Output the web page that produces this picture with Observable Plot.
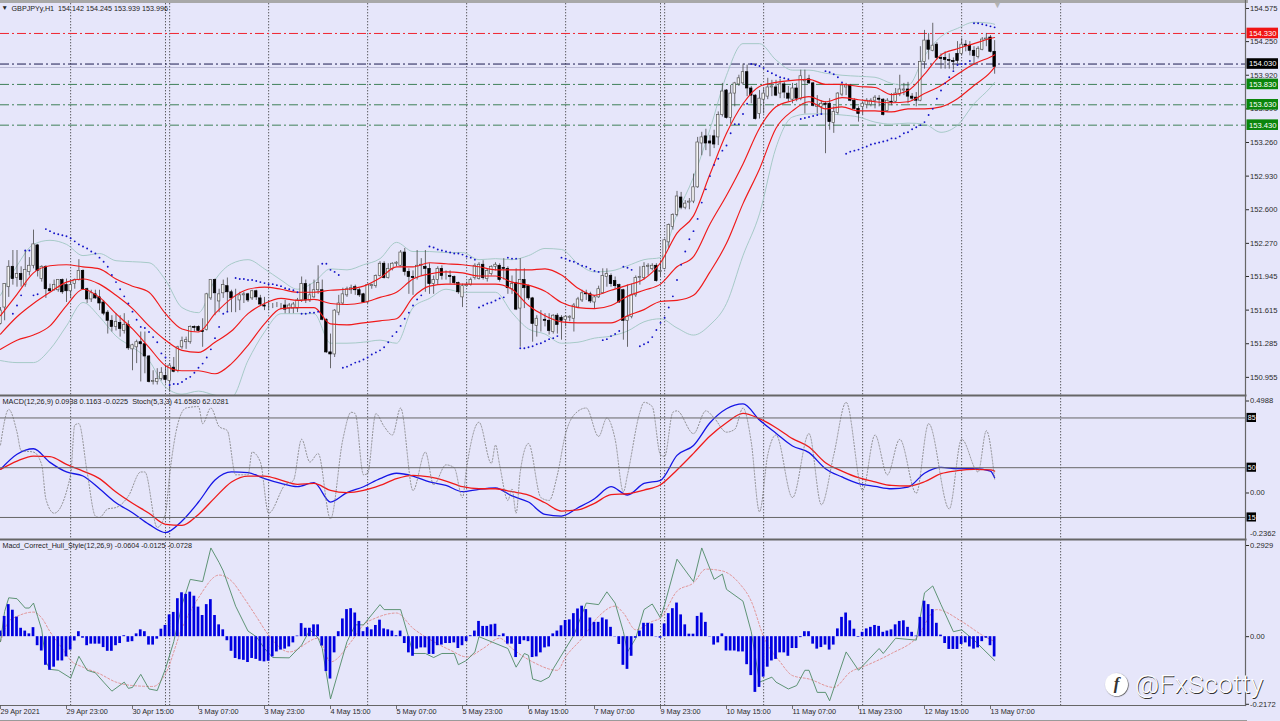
<!DOCTYPE html>
<html><head><meta charset="utf-8">
<script src="https://cdn.jsdelivr.net/npm/d3@7"></script>
<script src="https://cdn.jsdelivr.net/npm/@observablehq/plot@0.6"></script>
<style>
html,body{margin:0;padding:0;background:#e6e6fa;overflow:hidden}
#root{position:relative;width:1280px;height:721px;background:#e6e6fa;overflow:hidden}
#wm{position:absolute;left:1135px;top:668px;font:300 26.5px Roboto,sans-serif;color:#fff;text-shadow:0.8px 0.8px 0.6px #333;letter-spacing:.3px;white-space:pre}
#logo{position:absolute;left:1105px;top:673px;width:23px;height:23px;border-radius:50%;background:#fff;box-shadow:0.6px 0.6px 1px #444;color:#333;font:italic 700 17px "Liberation Serif",serif;text-align:center;line-height:22px}
</style></head><body><div id="root"></div>
<script>
// Candles, in pips above 150.00 (1 pip = 0.01 JPY)
const open = [148,164,184,204,193,197,186,199,205,225,192,204,182,181,181,191,186,180,187,191,200,182,172,177,174,169,159,151,145,149,141,147,123,125,130,128,116,91,91,94,97,92,105,102,125,130,130,145,145,141,142,173,191,170,178,185,179,172,171,176,177,173,180,173,166,165,166,166,165,166,163,163,163,171,187,171,174,181,181,152,120,118,159,168,176,181,184,181,177,169,185,185,195,207,193,202,207,205,218,199,194,193,205,204,202,187,191,202,195,195,194,188,174,185,186,193,192,206,192,197,204,205,203,202,182,188,163,191,185,173,146,151,152,151,140,156,154,152,154,153,164,171,178,177,169,174,178,194,195,190,186,181,151,155,176,193,193,204,202,205,199,202,228,243,255,272,262,267,268,282,325,332,327,332,331,353,377,350,374,383,384,395,379,372,354,368,371,380,380,374,383,374,368,379,369,386,388,384,361,361,364,364,345,355,373,380,382,367,359,361,363,363,367,369,368,357,366,366,373,377,378,371,370,367,405,426,416,422,409,409,407,406,413,413,422,421,416,410,417,427,429,415];
const high = [164,187,210,220,220,204,220,213,240,226,205,205,187,191,191,192,192,191,192,211,201,183,181,181,181,171,161,156,158,156,158,151,128,132,140,140,117,102,104,105,107,109,115,126,135,135,146,146,146,153,178,191,192,182,191,193,181,182,179,179,178,181,181,176,174,171,168,169,168,171,168,169,173,194,191,187,191,205,191,153,138,162,176,183,184,186,186,183,178,187,187,196,209,209,207,208,209,220,222,202,200,220,212,220,207,195,204,205,200,200,195,189,187,189,193,207,208,210,202,205,208,207,212,204,195,202,212,202,186,174,156,161,158,158,157,158,156,156,156,168,174,181,181,179,175,185,202,202,197,194,187,182,186,187,195,204,208,207,207,207,210,231,246,256,278,277,269,271,295,331,336,339,333,338,356,384,378,382,385,392,403,402,381,373,377,379,389,387,387,388,385,381,384,384,397,397,392,385,372,367,366,369,361,375,384,384,383,369,361,366,369,369,372,372,369,369,374,379,392,384,385,374,375,420,436,433,443,424,413,415,413,409,425,428,426,425,420,420,429,433,431,426];
const low = [147,151,174,186,184,184,184,195,202,194,189,173,179,180,179,177,169,173,182,190,181,168,169,172,161,156,138,140,141,135,138,122,102,109,91,99,90,88,88,92,89,81,100,100,123,123,128,140,140,125,141,171,156,159,173,159,159,159,161,168,169,171,171,165,161,161,163,164,162,158,158,158,159,169,168,169,173,177,151,119,104,115,156,166,174,177,176,174,168,168,182,183,194,192,192,200,204,204,195,177,176,191,195,179,177,177,186,191,191,187,186,177,164,184,185,191,191,191,189,195,200,189,191,177,177,161,125,163,171,130,135,140,145,137,138,138,132,145,150,140,163,169,171,168,163,173,177,184,184,182,168,132,125,153,174,186,191,195,200,189,194,201,222,240,253,260,260,260,266,281,313,318,312,320,323,351,349,344,361,381,382,371,364,348,349,354,368,371,371,369,369,366,364,366,367,354,383,361,354,353,315,338,335,353,371,372,366,358,346,353,359,361,359,361,352,356,362,365,371,372,364,367,361,366,398,407,415,407,398,398,398,397,403,411,415,411,403,408,416,420,414,393];
const close = [161,187,204,192,197,191,201,205,226,200,204,182,180,186,191,179,180,186,191,200,182,172,178,173,168,158,151,145,150,143,147,124,127,130,128,116,91,92,94,100,93,107,101,125,131,132,145,144,141,140,177,191,178,177,186,179,173,172,176,177,171,180,174,167,165,165,166,166,165,162,166,167,171,187,171,176,181,188,152,120,118,161,168,177,182,183,181,176,169,186,186,195,207,193,202,207,208,218,199,194,193,205,206,202,187,191,202,195,195,194,188,179,185,186,191,205,206,193,200,204,206,191,202,183,187,162,191,183,173,148,153,151,151,141,156,147,151,155,155,166,172,178,177,170,174,182,195,197,187,185,169,151,155,176,193,194,204,205,205,190,200,230,245,255,273,262,266,268,282,326,331,325,325,324,353,376,350,374,384,389,395,379,372,349,369,374,380,381,372,383,375,369,379,369,391,387,384,362,363,364,363,346,356,374,382,382,367,359,354,364,367,367,370,368,353,367,365,374,378,378,371,369,367,405,426,417,421,409,408,407,406,405,406,422,421,416,411,418,427,428,415,400];

// Indicator lines read at every 4th bar (bars 0,4,...,240 and 241)
const lineBars = [...d3.range(0,241,4),241];
const redUpper = [156,177,198,205,206,204,202,192,185,179,158,143,140,158,173,182,184,182,179,179,181,182,185,193,204,204,208,207,206,204,201,201,201,202,196,183,176,181,186,192,208,237,254,295,335,364,381,385,387,388,383,383,381,380,373,377,393,412,418,423,428,429];
const redMiddle = [138,155,168,179,189,192,187,176,163,146,132,122,120,130,141,158,168,173,171,172,168,167,169,174,179,192,197,199,198,195,195,189,186,180,169,164,163,166,175,181,187,204,214,246,274,305,340,361,367,371,366,370,368,366,365,366,374,382,393,403,410,412];
const redLower = [123,132,137,146,166,182,174,158,143,125,107,102,102,99,109,127,148,163,164,164,148,147,149,151,153,174,185,187,187,187,187,182,166,156,150,149,149,149,156,162,170,171,176,199,227,266,300,340,357,366,359,361,357,357,356,359,359,361,369,382,395,400];
const bandUpper = [176,205,226,230,226,215,217,210,209,208,191,164,159,191,207,211,202,191,182,189,202,201,206,212,228,219,219,218,218,211,212,211,215,222,221,207,199,200,205,211,213,256,292,339,392,423,423,407,397,397,394,392,391,390,384,382,411,430,438,444,443,442];
const bandLower = [112,110,110,123,146,169,155,136,125,112,86,79,82,78,76,112,140,158,158,158,129,129,130,132,129,164,173,182,179,179,179,159,143,138,129,130,134,136,141,150,153,144,137,147,168,215,256,321,351,354,354,353,351,346,344,345,344,336,343,364,380,385];

// Parabolic SAR, bar by bar starting at bar 3
const sarBars = [3,4,5,6,7,8,9,...d3.range(11,56),...d3.range(57,73),...d3.range(73,78),...d3.range(78,83),...d3.range(83,103),...d3.range(104,116),...d3.range(116,123),...d3.range(123,126),...d3.range(126,136),...d3.range(136,146),...d3.range(146,151),...d3.range(151,154),...d3.range(155,158),...d3.range(158,182),...d3.range(182,192),...d3.range(194,200),...d3.range(200,205),...d3.range(205,236),...d3.range(236,242)];
const sarValues = [158,166,176,220,220,176,177,
241,239,237,236,235,234,232,229,226,224,222,219,217,213,209,204,196,189,182,175,168,160,152,145,144,140,135,130,119,115,88,89,89,91,94,96,100,105,109,115,123,134,145,158,160,
193,192,192,191,191,190,189,188,187,187,186,185,183,182,181,179,
158,158,159,159,160,
207,207,201,199,196,
105,106,108,110,111,113,115,118,120,122,125,130,136,140,146,153,159,166,172,176,
224,223,221,220,219,218,217,217,216,214,213,211,
164,166,168,169,171,173,174,
213,212,212,
124,124,125,126,128,129,131,133,134,136,
213,212,210,209,207,205,204,202,200,199,
132,133,136,138,141,
204,203,201,
126,128,130,
135,142,149,154,164,175,191,206,219,231,239,251,267,280,293,304,310,318,323,335,344,344,354,364,
403,402,401,399,396,394,392,390,389,388,
349,350,351,352,353,354,
396,395,393,390,385,
315,317,318,319,321,322,324,325,326,327,328,330,330,332,335,336,339,341,343,346,353,359,369,377,384,390,396,402,403,403,406,
443,443,442,441,440,439];

const priceTicks = [154.575,154.25,153.92,153.59,153.26,152.93,152.6,152.27,151.945,151.615,151.285,150.955];
const levelPrices = [154.33,154.03,153.83,153.63,153.43];
const levelColors = ["#f02530","#1c1c50","#3f8058","#3f8058","#3f8058"];
const levelFills = ["#f01414","#000000","#0b850b","#0b850b","#0b850b"];
const bidPrice = 153.996;
const daySeparators = [17,40,41,65,89,113,137,160,161,185,209,233,257];

// MACD (value, signal) at lineBars
const macdMain = [.128,.210,.240,.166,.114,.092,.023,-.053,-.107,-.170,-.215,-.152,-.049,.070,.114,.110,.078,.052,.034,.056,-.049,.002,.034,.078,.107,.092,.060,.041,.007,.020,.027,-.016,-.049,-.116,-.125,-.080,-.031,.034,-.011,.052,.069,.204,.258,.381,.457,.483,.396,.324,.255,.219,.132,.087,.051,.036,.023,.032,.107,.139,.132,.132,.119,.083];
const macdSignal = [.128,.173,.200,.197,.155,.119,.078,.005,-.056,-.110,-.170,-.176,-.116,-.025,.060,.092,.092,.070,.047,.052,.014,.002,.014,.041,.078,.096,.087,.065,.034,.023,.023,.007,-.011,-.053,-.098,-.092,-.056,-.009,-.004,.016,.045,.125,.215,.309,.381,.432,.403,.354,.295,.249,.164,.119,.083,.060,.041,.038,.061,.105,.121,.128,.125,.119];
const macdTicks = [.4988,0];
const macdTickLabels = ["0.4988","0.00"];
const macdFloor = -.2362;

// Stochastic turning points
const stochBars = [0,2,4,5,8,10,11,13,17,18,19,21,23,24,26,28,31,34,35,38,40,41,43,45,48,49,51,53,55,57,60,61,63,65,69,71,73,75,77,80,83,85,86,88,89,91,93,95,97,100,103,105,108,110,112,113,116,119,120,121,123,124,125,126,128,131,133,135,137,139,142,145,147,149,151,152,155,156,158,160,161,163,164,168,171,173,176,178,180,182,184,186,188,192,196,199,202,205,209,212,215,218,222,225,230,233,237,239,241];
const stochValues = [66,91,75,62,61,52,28,18,45,80,81,47,16,15,21,22,30,47,47,8,18,45,81,92,93,81,92,79,76,45,45,61,54,18,38,41,70,54,60,14,70,89,88,45,46,88,79,73,92,34,61,38,52,50,29,50,82,53,66,52,27,35,18,47,67,29,27,45,74,87,92,72,85,70,33,45,89,96,93,59,58,89,90,74,90,85,75,77,92,68,19,59,73,29,74,24,59,96,34,73,45,70,32,81,21,70,47,76,42];
const stochLevels = [85,50,15];

// Macd_Correct_Hull_Style in thousandths
const hullHist = [18,65,103,85,63,27,18,9,29,-29,-46,-92,-108,-98,-78,-78,-65,-43,-14,16,-5,-29,-24,-24,-24,-35,-47,-47,-29,-22,3,-18,-16,9,22,16,-27,-27,-8,24,36,70,78,122,141,136,143,130,95,68,103,119,68,38,22,-13,-47,-70,-74,-76,-83,-70,-73,-79,-81,-79,-65,-49,-43,-40,-33,-20,2,42,27,27,38,38,-30,-112,-136,-52,16,57,87,90,76,49,16,29,22,36,53,25,22,18,3,18,-22,-52,-63,-40,-36,-36,-57,-57,-29,-27,-22,-22,-20,-38,-29,-16,3,18,49,33,33,38,40,3,9,-24,-24,-67,-25,-13,-16,-67,-65,-52,-36,-33,9,18,35,52,54,74,89,98,87,60,46,46,60,54,30,-1,-25,-92,-105,-63,-5,18,43,43,41,-1,-5,41,74,90,108,70,38,8,8,65,76,46,-1,-27,-20,9,-46,-46,-46,-49,-49,-90,-125,-179,-163,-130,-98,-78,-73,-52,-52,-63,-38,-38,-3,16,16,-24,-40,-35,-27,-43,-27,25,62,76,51,24,-2,14,25,30,36,33,14,18,22,38,49,51,30,14,2,62,114,103,87,43,5,-22,-41,-41,-41,-25,-20,-33,-40,-36,-16,-5,-29,-65];
const hullLineBars = [0,1,2,4,6,7,8,9,10,11,12,14,17,19,21,23,25,27,30,31,32,34,36,38,40,42,44,46,49,51,53,54,57,60,62,64,66,70,73,75,77,78,80,84,86,88,92,93,97,99,100,103,105,107,110,111,113,115,116,123,125,127,128,129,131,133,134,137,139,142,145,147,149,151,152,154,156,158,160,161,164,168,170,173,175,176,180,182,184,187,188,191,193,195,196,198,200,201,205,208,213,214,217,222,224,226,228,231,233,236,241];
const hullLine = [-16,81,125,122,92,92,108,65,22,-81,-105,-108,-133,-63,-108,-116,-146,-175,-146,-166,-163,-121,-168,-173,-103,-16,103,184,177,285,238,211,98,18,0,-38,-67,-68,-27,22,-5,-38,-200,-16,38,38,103,87,87,-5,-54,-54,-67,-54,-54,-90,-76,-49,0,-38,-98,-54,-60,-136,-144,-130,-103,-38,5,108,103,144,108,16,-49,-5,87,105,60,103,249,177,285,184,201,152,114,16,-146,-130,-146,-168,-157,-108,-108,-179,-179,-206,-49,-108,-38,-54,-5,-11,141,163,103,16,22,-11,-76];
const hullSignalBars = [0,2,4,8,10,12,15,17,20,24,28,32,37,40,44,48,53,56,59,62,65,70,77,80,85,88,91,96,100,105,109,113,117,121,124,129,135,137,141,145,149,151,154,158,160,164,168,171,175,179,182,185,189,192,196,202,206,210,216,222,227,233,238,241];
const hullSignal = [-16,49,65,79,60,16,-38,-76,-98,-119,-146,-157,-160,-119,27,125,198,179,125,65,5,-49,-5,-81,-16,38,60,76,27,-16,-43,-65,-38,-5,-38,-81,-108,-65,-5,65,98,76,22,49,60,146,173,217,211,173,114,0,-81,-125,-136,-163,-114,-92,-54,-5,87,49,5,-16];
const hullTicks = [.2929,0,-.2172];
const hullTickLabels = ["0.2929","0.00","-0.2172"];

const timeBars = d3.range(0,241,16);
const timeLabels = ["29 Apr 2021","29 Apr 23:00","30 Apr 15:00","3 May 07:00","3 May 23:00","4 May 15:00","5 May 07:00","5 May 23:00","6 May 15:00","7 May 07:00","9 May 23:00","10 May 15:00","11 May 07:00","11 May 23:00","12 May 15:00","13 May 07:00"];

const titleText = "GBPJPYy,H1  154.142 154.245 153.939 153.996";
const macdText = "MACD(12,26,9) 0.0938 0.1163 -0.0225  Stoch(5,3,3) 41.6580 62.0281";
const hullText = "Macd_Correct_Hull_Style(12,26,9) -0.0604 -0.0125 -0.0728";

// ---- drawing ----
const STEP = 4.125, AXIS_PX = 1245;
const barAt = px => px / STEP;
const P = v => 150 + v / 100;
const K = v => v / 1000;
const FONT = '"Liberation Sans",sans-serif';
const root = document.getElementById("root");
const bars = d3.range(open.length);
const ups = bars.filter(i => close[i] >= open[i]);
const downs = bars.filter(i => close[i] < open[i]);

function panel(top, height, yDomain, marks, overflow) {
  const svg = Plot.plot({
    width: 1280, height, marginLeft: 0, marginRight: 35, marginTop: 0, marginBottom: 0,
    x: {type: "linear", domain: [0, barAt(AXIS_PX)], axis: null},
    y: {domain: yDomain, range: [height, 0], axis: null},
    style: {background: "transparent", fontFamily: FONT, fontSize: "7.6px", color: "#2a2a2a"},
    marks
  });
  svg.style.position = "absolute"; svg.style.left = "0"; svg.style.top = top + "px";
  if (overflow) svg.style.overflow = "visible";
  root.append(svg);
}
const separators = () => Plot.ruleX(daySeparators, {x: d => d, stroke: "#3a3a3a", strokeWidth: 0.8, strokeDasharray: "1.4,1.6"});
const series = (xs, ys, f, o) => Plot.line(xs.map((x, i) => [x, f(ys[i])]), {x: d => d[0], y: d => d[1], curve: "monotone-x", ...o});
const edge = (anchor, stroke, strokeWidth) => Plot.frame({anchor, stroke, strokeWidth});
const boxX1 = barAt(1246.5), boxX2 = barAt(1278);
const red = {stroke: "#f01a1a", strokeWidth: 1.15};
const band = {stroke: "#9fc6c2", strokeWidth: 0.9};

// Main price panel
panel(0, 395, [150.777, 154.6535], [
  separators(),
  Plot.ruleY([bidPrice], {y: d => d, stroke: "#a8a8c4", strokeWidth: 0.7, x1: 0, x2: barAt(AXIS_PX)}),
  ...levelPrices.map((p, i) => Plot.ruleY([p], {y: d => d, x1: 0, x2: barAt(AXIS_PX), stroke: levelColors[i], strokeWidth: 1, strokeDasharray: "9,3,2,3"})),
  series(lineBars, bandUpper, P, band),
  series(lineBars, bandLower, P, band),
  Plot.ruleX(bars, {x: i => i, y1: i => P(low[i]), y2: i => P(high[i]), stroke: "#484848", strokeWidth: 0.8}),
  Plot.rect(ups, {x1: i => i - .3, x2: i => i + .3, y1: i => P(open[i]), y2: i => P(close[i]), fill: "#f4f4f4", stroke: "#555", strokeWidth: 0.7}),
  Plot.rect(downs, {x1: i => i - .3, x2: i => i + .3, y1: i => P(open[i]), y2: i => P(close[i]), fill: "#000", stroke: "#000", strokeWidth: 0.7}),
  series(lineBars, redUpper, P, red),
  series(lineBars, redMiddle, P, red),
  series(lineBars, redLower, P, red),
  Plot.dot(sarBars, {x: d => d, y: (d, i) => P(sarValues[i]), r: 0.95, fill: "#1414c8"}),
  edge("top", "#a8a8a8", 5),
  edge("right", "#666", 1.2),
  Plot.axisY({anchor: "right", ticks: priceTicks, tickSize: 3, tickPadding: 1.5, tickFormat: d3.format(".3f"), label: null}),
  ...levelPrices.map((p, i) => Plot.rect([p], {x1: boxX1, x2: boxX2, y1: d => d - .052, y2: d => d + .052, fill: levelFills[i]})),
  Plot.text(levelPrices, {x: boxX1, dx: 2, y: d => d, text: d => d.toFixed(3), fill: "#fff", textAnchor: "start", fontSize: 7.6}),
  Plot.text(["▼"], {x: barAt(997), frameAnchor: "top", dy: 1, fill: "#b4b4b4", fontSize: 9}),
  Plot.text(["▼"], {frameAnchor: "top-left", dx: 1, dy: 5, fill: "#222", fontSize: 6.5}),
  Plot.text([titleText], {frameAnchor: "top-left", dx: 11, dy: 5, fill: "#222", fontSize: 7.2})
]);

// MACD panel
panel(395, 144, [-0.2522, 0.5287], [
  separators(),
  series(lineBars, macdMain, d => d, {stroke: "#1515e6", strokeWidth: 1.3}),
  series(lineBars, macdSignal, d => d, {stroke: "#f01a1a", strokeWidth: 1.3}),
  edge("top", "#666", 2),
  edge("right", "#666", 1.2),
  Plot.axisY({anchor: "right", ticks: macdTicks, tickSize: 3, tickPadding: 1.5, tickFormat: (d, i) => macdTickLabels[i], label: null}),
  Plot.text([macdFloor], {x: barAt(AXIS_PX), dx: 4.5, dy: -2.5, y: d => d, text: d => d.toFixed(4), textAnchor: "start", fill: "#2a2a2a"}),
  Plot.text([macdText], {frameAnchor: "top-left", dx: 2, dy: 3.5, fill: "#222", fontSize: 7.3})
], true);
// Stochastic overlay on the MACD panel (its own 0-100 scale)
panel(395, 144, [-0.5, 100.8], [
  series(stochBars, stochValues, d => d, {stroke: "#7c7c7c", strokeWidth: 0.8, strokeDasharray: "1.3,1.8"}),
  Plot.ruleY(stochLevels, {y: d => d, x1: 0, x2: barAt(AXIS_PX), stroke: "#666", strokeWidth: 1}),
  Plot.rect(stochLevels, {x1: boxX1, x2: barAt(1256), y1: d => d - 3.2, y2: d => d + 3.2, fill: "#000"}),
  Plot.text(stochLevels, {x: boxX1, dx: 0.8, y: d => d, text: d => String(d), fill: "#fff", textAnchor: "start", fontSize: 7})
]);

// Hull panel
panel(539, 166, [-0.2211, 0.3122], [
  separators(),
  series(hullSignalBars, hullSignal, K, {stroke: "#e08a8a", strokeWidth: 0.9, strokeDasharray: "2,2"}),
  series(hullLineBars, hullLine, K, {stroke: "#4f8a66", strokeWidth: 0.9, curve: "linear"}),
  Plot.rect(bars, {x1: i => i - .33, x2: i => i + .33, y1: 0, y2: i => K(hullHist[i]), fill: "#0000e0"}),
  edge("top", "#666", 2),
  edge("right", "#666", 1.2),
  edge("bottom", "#666", 1.2),
  Plot.axisY({anchor: "right", ticks: hullTicks, tickSize: 3, tickPadding: 1.5, tickFormat: (d, i) => hullTickLabels[i], label: null}),
  Plot.text([hullText], {frameAnchor: "top-left", dx: 2, dy: 3.5, fill: "#222", fontSize: 7.2})
], true);

// Time axis
panel(705, 16, [0, 1], [
  Plot.ruleX(timeBars, {x: d => d, insetBottom: 12, stroke: "#555", strokeWidth: 0.8}),
  Plot.text(timeBars, {x: d => d, frameAnchor: "top", dy: 3, text: (d, i) => timeLabels[i], textAnchor: "start", fill: "#2a2a2a", fontSize: 7.3}),
  edge("bottom", "#9a9a9a", 3)
]);

const logo = document.createElement("div"); logo.id = "logo"; logo.textContent = "f"; root.append(logo);
const wm = document.createElement("div"); wm.id = "wm"; wm.textContent = "@FxScotty"; root.append(wm);
</script></body></html>
